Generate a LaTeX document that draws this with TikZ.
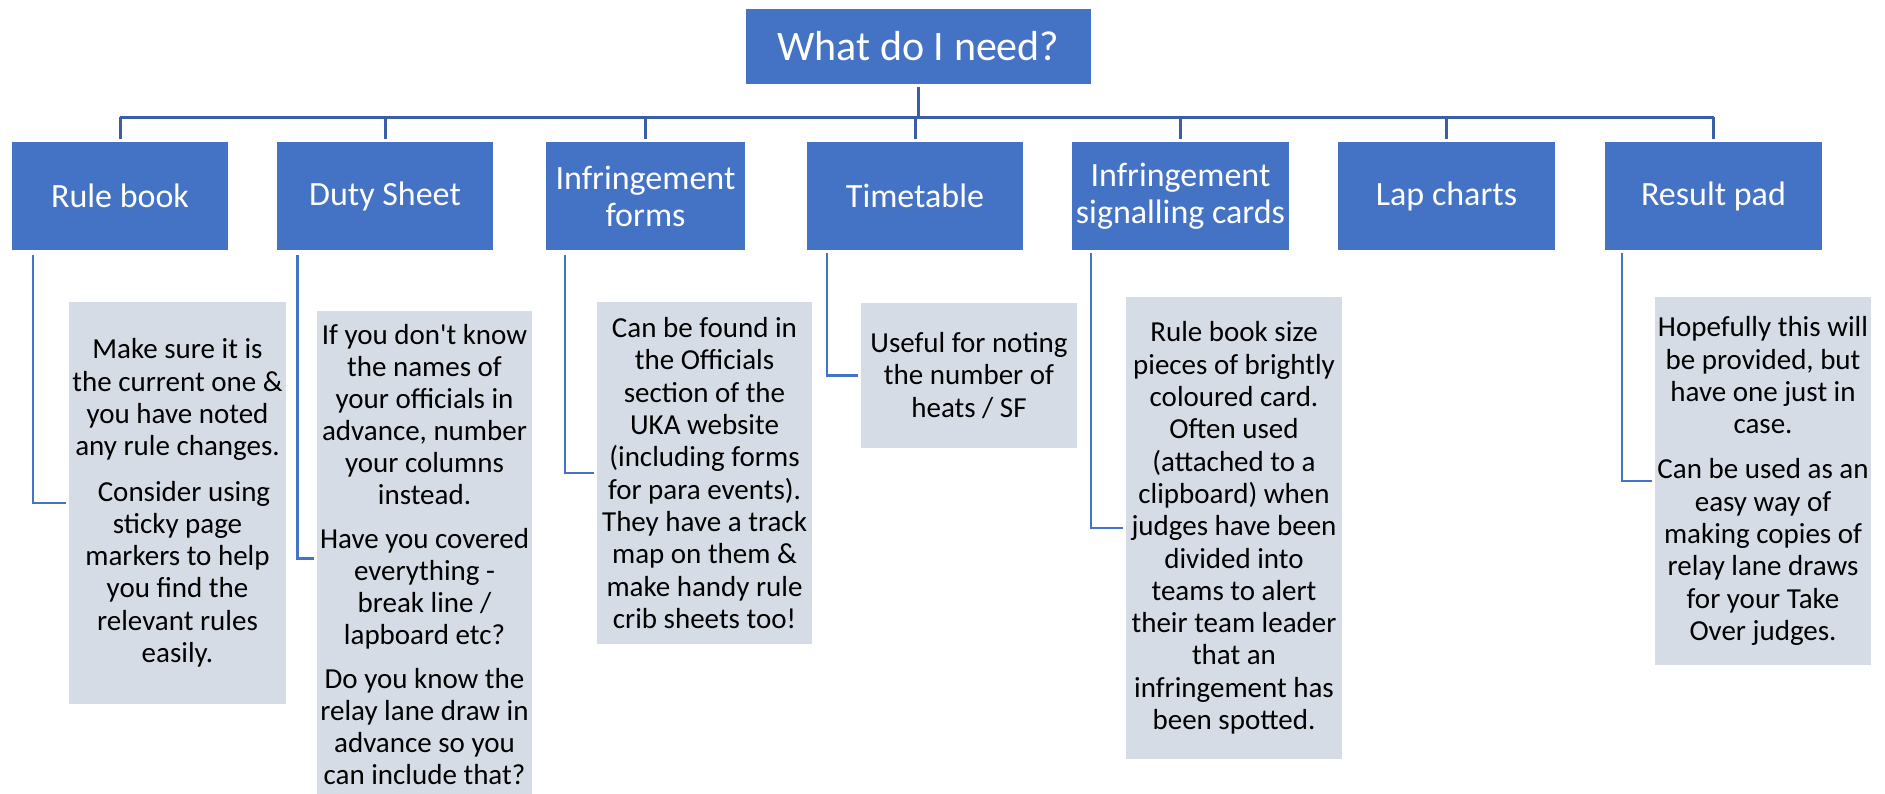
\documentclass[tikz,border=0pt]{standalone}
\usepackage{fontspec}
\setmainfont{Carlito}[Ligatures=TeXOff]
\usetikzlibrary{calc}
\definecolor{boxblue}{HTML}{4472C4}
\definecolor{busblue}{HTML}{3B5FA6}
\definecolor{descfill}{HTML}{D6DCE5}
\begin{document}
\begin{tikzpicture}[x=1pt,y=-1pt,
  topbox/.style={fill=boxblue, text=white, inner sep=0pt, minimum width=345pt, minimum height=75pt, font=\fontsize{42}{46}\selectfont},
  lvlbox/.style={fill=boxblue, text=white, inner sep=0pt, minimum width=216pt, minimum height=108pt, align=center, font=\fontsize{34}{37}\selectfont},
  descbox/.style={fill=descfill, text=black, inner sep=0pt, minimum width=216pt, align=center, font=\fontsize{29}{32.3}\selectfont},
  bus/.style={draw=busblue, line width=3pt},
  link/.style={draw=boxblue, line width=2.4pt},
]
\useasboundingbox (0,0) rectangle (1885,793);
\fill[white] (0,0) rectangle (1885,793);

% top
\node[topbox] (top) at (918.5,46.5) {What do I need?};

% level 1
\node[lvlbox] (rb) at (120,196) {Rule book};
\node[lvlbox] (ds) at (385,196) {Duty Sheet};
\node[lvlbox, minimum width=199pt] (if) at (645.5,196) {Infringement\\forms};
\node[lvlbox] (tt) at (915,196) {Timetable};
\node[lvlbox, minimum width=217pt] (sc) at (1180.5,196) {Infringement\\signalling cards};
\node[lvlbox, minimum width=217pt] (lc) at (1446.5,196) {Lap charts};
\node[lvlbox, minimum width=217pt] (rp) at (1713.5,196) {Result pad};

% bus
\coordinate (busy) at (0,117);
\draw[bus] ($(top.south)+(0,3)$) -- (top.south |- busy);
\draw[bus] (rb.north |- busy) -- (rp.north |- busy);
\foreach \n in {rb,ds,if,tt,sc,lc,rp}{
  \draw[bus] (\n.north |- busy) -- ($(\n.north)+(0,-3)$);
}

% descriptions
\node[descbox, minimum width=217pt, minimum height=402pt] (rbd) at (177.5,503) {Make sure it is\\the current one \&\\you have noted\\any rule changes.\\[13pt]\hspace*{13pt}Consider using\\sticky page\\markers to help\\you find the\\relevant rules\\easily.};
\node[descbox, minimum width=215pt, minimum height=488pt, font=\fontsize{29}{32}\selectfont] (dsd) at (424.5,555) {If you don't know\\the names of\\your officials in\\advance, number\\your columns\\instead.\\[12pt]Have you covered\\everything -\\break line /\\lapboard etc?\\[12pt]Do you know the\\relay lane draw in\\advance so you\\can include that?};
\node[descbox, minimum width=215pt, minimum height=342pt] (ifd) at (704.5,473) {Can be found in\\the Officials\\section of the\\UKA website\\(including forms\\for para events).\\They have a track\\map on them \&\\make handy rule\\crib sheets too!};
\node[descbox, minimum height=145pt] (ttd) at (969,375.5) {Useful for noting\\the number of\\heats / SF};
\node[descbox, minimum height=462pt] (scd) at (1234,528) {Rule book size\\pieces of brightly\\coloured card.\\Often used\\(attached to a\\clipboard) when\\judges have been\\divided into\\teams to alert\\their team leader\\that an\\infringement has\\been spotted.};
\node[descbox, minimum height=368pt] (rpd) at (1763,481) {Hopefully this will\\be provided, but\\have one just in\\case.\\[13pt]Can be used as an\\easy way of\\making copies of\\relay lane draws\\for your Take\\Over judges.};

% links
\draw[link] ($(rb.south west)+(21,5)$) |- ($(rbd.west)+(-3,0)$);
\draw[link] ($(ds.south west)+(20.5,5)$) |- ($(dsd.west)+(-3,3.5)$);
\draw[link] ($(if.south west)+(19,5)$) |- ($(ifd.west)+(-3,0)$);
\draw[link] ($(tt.south west)+(20,3)$) |- ($(ttd.west)+(-3,0)$);
\draw[link] ($(sc.south west)+(19,3)$) |- ($(scd.west)+(-3,0)$);
\draw[link] ($(rp.south west)+(17,3)$) |- ($(rpd.west)+(-3,0)$);
\end{tikzpicture}
\end{document}
